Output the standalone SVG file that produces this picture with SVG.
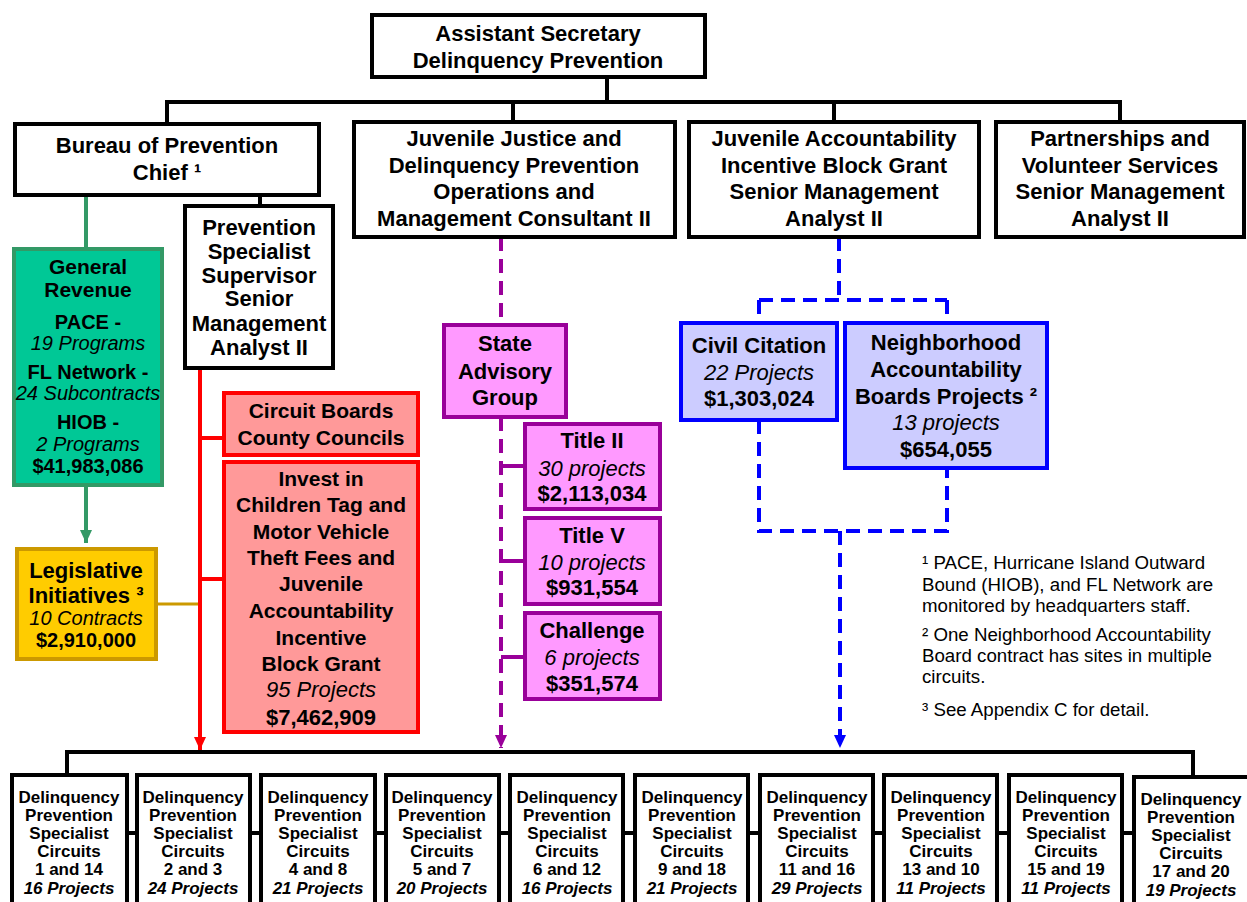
<svg xmlns="http://www.w3.org/2000/svg" width="1247" height="902" viewBox="0 0 1247 902">
<style>
text{font-family:"Liberation Sans",Arial,sans-serif;fill:#000;text-anchor:middle}
.b{font-weight:bold;font-size:22px}
.i{font-style:italic;font-size:22px}
.b20{font-weight:bold;font-size:20px}
.i20{font-style:italic;font-size:20px}
.b21{font-weight:bold;font-size:21px}
.bs{font-weight:bold;font-size:17px}
.is{font-weight:bold;font-style:italic;font-size:17px}
.fn{font-size:18.7px;text-anchor:start}
.wbox{fill:#fff;stroke:#000;stroke-width:4}
.gbox{fill:#00C896;stroke:#339966;stroke-width:4}
.ybox{fill:#FFCC00;stroke:#CC9900;stroke-width:4}
.rbox{fill:#FF9999;stroke:#FF0000;stroke-width:4}
.pbox{fill:#FF99FF;stroke:#990099;stroke-width:4}
.bbox{fill:#CCCCFF;stroke:#0000FF;stroke-width:4}
.k{fill:none;stroke:#000;stroke-width:4}
.gl{fill:none;stroke:#339966;stroke-width:4}
.yl{fill:none;stroke:#CC9900;stroke-width:3}
.rl{fill:none;stroke:#FF0000;stroke-width:4}
.pl{fill:none;stroke:#990099;stroke-width:4}
.pd{fill:none;stroke:#990099;stroke-width:4;stroke-dasharray:14 8}
.bd{fill:none;stroke:#0000FF;stroke-width:4;stroke-dasharray:14 8}
</style>
<defs>
<marker id="ag" markerUnits="userSpaceOnUse" markerWidth="14" markerHeight="14" refX="13" refY="7" orient="auto"><path d="M0,1 L13,7 L0,13 z" fill="#339966"/></marker>
<marker id="ar" markerUnits="userSpaceOnUse" markerWidth="14" markerHeight="14" refX="13" refY="7" orient="auto"><path d="M0,1 L13,7 L0,13 z" fill="#FF0000"/></marker>
<marker id="ap" markerUnits="userSpaceOnUse" markerWidth="14" markerHeight="14" refX="13" refY="7" orient="auto"><path d="M0,1 L13,7 L0,13 z" fill="#990099"/></marker>
<marker id="ab" markerUnits="userSpaceOnUse" markerWidth="14" markerHeight="14" refX="13" refY="7" orient="auto"><path d="M0,1 L13,7 L0,13 z" fill="#0000FF"/></marker>
</defs>
<rect width="1247" height="902" fill="#fff"/>

<g id="connectors">
<path class="k" d="M607,77 V102 M165,102 H1122 M167,102 V124 M513,102 V122 M834,102 V122 M1120,102 V122 M260,195 V206"/>
<path class="k" d="M65,752 H1195 M67,752 V775 M1193,752 V777"/>
<path class="k" d="M127,833 H137 M250,833 H261 M375,833 H386 M499,833 H510 M623,833 H635 M748,833 H760 M873,833 H884 M997,833 H1009 M1122,833 H1134"/>
<path class="gl" d="M86,195 V248"/>
<path class="gl" d="M86,485 V543" marker-end="url(#ag)"/>
<path class="yl" d="M156,604 H200"/>
<path class="rl" d="M200,368 V750" marker-end="url(#ar)"/>
<path class="rl" d="M200,438 H224 M200,579 H224"/>
<path class="pd" d="M501,237 V325"/>
<path class="pd" d="M501,417 V748" marker-end="url(#ap)"/>
<path class="pl" d="M501,466 H525 M501,561 H525 M501,657 H525"/>
<path class="bd" d="M839,237 V300 M759,300 H947 M759,300 V323 M947,300 V323 M759,420 V531 H947 V468"/>
<path class="bd" d="M840,531 V748" marker-end="url(#ab)"/>
</g>

<g id="n-asst">
<rect class="wbox" x="372" y="15" width="333" height="62"/>
<text class="b" x="538" y="41">Assistant Secretary</text>
<text class="b" x="538" y="68">Delinquency Prevention</text>
</g>

<g id="n-bureau">
<rect class="wbox" x="15" y="124" width="304" height="71"/>
<text class="b" x="167" y="153">Bureau of Prevention</text>
<text class="b" x="167" y="180">Chief ¹</text>
</g>

<g id="n-jj">
<rect class="wbox" x="354" y="122" width="321" height="115"/>
<text class="b" x="514" y="146">Juvenile Justice and</text>
<text class="b" x="514" y="173">Delinquency Prevention</text>
<text class="b" x="514" y="199">Operations and</text>
<text class="b" x="514" y="226">Management Consultant II</text>
</g>

<g id="n-jaibg">
<rect class="wbox" x="689" y="122" width="290" height="115"/>
<text class="b" x="834" y="146">Juvenile Accountability</text>
<text class="b" x="834" y="173">Incentive Block Grant</text>
<text class="b" x="834" y="199">Senior Management</text>
<text class="b" x="834" y="226">Analyst II</text>
</g>

<g id="n-partner">
<rect class="wbox" x="996" y="122" width="248" height="115"/>
<text class="b" x="1120" y="146">Partnerships and</text>
<text class="b" x="1120" y="173">Volunteer Services</text>
<text class="b" x="1120" y="199">Senior Management</text>
<text class="b" x="1120" y="226">Analyst II</text>
</g>

<g id="n-general">
<rect class="gbox" x="14" y="249" width="148" height="236"/>
<text class="b21" x="88" y="274">General</text>
<text class="b21" x="88" y="297">Revenue</text>
<text class="b20" x="88" y="329">PACE -</text>
<text class="i20" x="88" y="350">19 Programs</text>
<text class="b20" x="88" y="379">FL Network -</text>
<text class="i20" x="88" y="400">24 Subcontracts</text>
<text class="b20" x="88" y="429">HIOB -</text>
<text class="i20" x="88" y="451">2 Programs</text>
<text class="b20" x="88" y="473">$41,983,086</text>
</g>

<g id="n-legis">
<rect class="ybox" x="17" y="549" width="139" height="110"/>
<text class="b" x="86" y="578">Legislative</text>
<text class="b" x="86" y="603">Initiatives ³</text>
<text class="i20" x="86" y="625">10 Contracts</text>
<text class="b20" x="86" y="647">$2,910,000</text>
</g>

<g id="n-pss">
<rect class="wbox" x="185" y="206" width="148" height="162"/>
<text class="b" x="259" y="235">Prevention</text>
<text class="b" x="259" y="259">Specialist</text>
<text class="b" x="259" y="283">Supervisor</text>
<text class="b" x="259" y="306">Senior</text>
<text class="b" x="259" y="331">Management</text>
<text class="b" x="259" y="355">Analyst II</text>
</g>

<g id="n-circuit">
<rect class="rbox" x="224" y="393" width="194" height="62"/>
<text class="b21" x="321" y="418">Circuit Boards</text>
<text class="b21" x="321" y="445">County Councils</text>
</g>

<g id="n-invest">
<rect class="rbox" x="224" y="462" width="194" height="270"/>
<text class="b21" x="321" y="486">Invest in</text>
<text class="b21" x="321" y="512">Children Tag and</text>
<text class="b21" x="321" y="539">Motor Vehicle</text>
<text class="b21" x="321" y="565">Theft Fees and</text>
<text class="b21" x="321" y="591">Juvenile</text>
<text class="b21" x="321" y="618">Accountability</text>
<text class="b21" x="321" y="645">Incentive</text>
<text class="b21" x="321" y="671">Block Grant</text>
<text class="i" x="321" y="697">95 Projects</text>
<text class="b" x="321" y="725">$7,462,909</text>
</g>

<g id="n-sag">
<rect class="pbox" x="444" y="325" width="122" height="92"/>
<text class="b" x="505" y="351">State</text>
<text class="b" x="505" y="379">Advisory</text>
<text class="b" x="505" y="405">Group</text>
</g>

<g id="n-title2">
<rect class="pbox" x="525" y="424" width="135" height="85"/>
<text class="b" x="592" y="448">Title II</text>
<text class="i" x="592" y="476">30 projects</text>
<text class="b" x="592" y="501">$2,113,034</text>
</g>

<g id="n-title5">
<rect class="pbox" x="525" y="518" width="135" height="86"/>
<text class="b" x="592" y="543">Title V</text>
<text class="i" x="592" y="570">10 projects</text>
<text class="b" x="592" y="595">$931,554</text>
</g>

<g id="n-challenge">
<rect class="pbox" x="525" y="613" width="135" height="86"/>
<text class="b" x="592" y="638">Challenge</text>
<text class="i" x="592" y="665">6 projects</text>
<text class="b" x="592" y="691">$351,574</text>
</g>

<g id="n-civil">
<rect class="bbox" x="681" y="323" width="156" height="97"/>
<text class="b" x="759" y="353">Civil Citation</text>
<text class="i" x="759" y="380">22 Projects</text>
<text class="b" x="759" y="406">$1,303,024</text>
</g>

<g id="n-nab">
<rect class="bbox" x="845" y="323" width="202" height="145"/>
<text class="b" x="946" y="350">Neighborhood</text>
<text class="b" x="946" y="377">Accountability</text>
<text class="b" x="946" y="404">Boards Projects ²</text>
<text class="i" x="946" y="430">13 projects</text>
<text class="b" x="946" y="457">$654,055</text>
</g>

<g id="footnotes">
<text class="fn" x="922" y="569">¹ PACE, Hurricane Island Outward</text>
<text class="fn" x="922" y="591">Bound (HIOB), and FL Network are</text>
<text class="fn" x="922" y="612">monitored by headquarters staff.</text>
<text class="fn" x="922" y="641">² One Neighborhood Accountability</text>
<text class="fn" x="922" y="662">Board contract has sites in multiple</text>
<text class="fn" x="922" y="683">circuits.</text>
<text class="fn" x="922" y="716">³ See Appendix C for detail.</text>
</g>

<g id="c1"><rect class="wbox" x="12" y="775" width="115" height="140"/>
<text class="bs" x="69" y="803">Delinquency</text><text class="bs" x="69" y="821">Prevention</text><text class="bs" x="69" y="839">Specialist</text><text class="bs" x="69" y="857">Circuits</text><text class="bs" x="69" y="875">1 and 14</text><text class="is" x="69" y="894">16 Projects</text></g>
<g id="c2"><rect class="wbox" x="137" y="775" width="113" height="140"/>
<text class="bs" x="193" y="803">Delinquency</text><text class="bs" x="193" y="821">Prevention</text><text class="bs" x="193" y="839">Specialist</text><text class="bs" x="193" y="857">Circuits</text><text class="bs" x="193" y="875">2 and 3</text><text class="is" x="193" y="894">24 Projects</text></g>
<g id="c3"><rect class="wbox" x="261" y="775" width="114" height="140"/>
<text class="bs" x="318" y="803">Delinquency</text><text class="bs" x="318" y="821">Prevention</text><text class="bs" x="318" y="839">Specialist</text><text class="bs" x="318" y="857">Circuits</text><text class="bs" x="318" y="875">4 and 8</text><text class="is" x="318" y="894">21 Projects</text></g>
<g id="c4"><rect class="wbox" x="386" y="775" width="113" height="140"/>
<text class="bs" x="442" y="803">Delinquency</text><text class="bs" x="442" y="821">Prevention</text><text class="bs" x="442" y="839">Specialist</text><text class="bs" x="442" y="857">Circuits</text><text class="bs" x="442" y="875">5 and 7</text><text class="is" x="442" y="894">20 Projects</text></g>
<g id="c5"><rect class="wbox" x="510" y="775" width="113" height="140"/>
<text class="bs" x="567" y="803">Delinquency</text><text class="bs" x="567" y="821">Prevention</text><text class="bs" x="567" y="839">Specialist</text><text class="bs" x="567" y="857">Circuits</text><text class="bs" x="567" y="875">6 and 12</text><text class="is" x="567" y="894">16 Projects</text></g>
<g id="c6"><rect class="wbox" x="635" y="775" width="113" height="140"/>
<text class="bs" x="692" y="803">Delinquency</text><text class="bs" x="692" y="821">Prevention</text><text class="bs" x="692" y="839">Specialist</text><text class="bs" x="692" y="857">Circuits</text><text class="bs" x="692" y="875">9 and 18</text><text class="is" x="692" y="894">21 Projects</text></g>
<g id="c7"><rect class="wbox" x="760" y="775" width="113" height="140"/>
<text class="bs" x="817" y="803">Delinquency</text><text class="bs" x="817" y="821">Prevention</text><text class="bs" x="817" y="839">Specialist</text><text class="bs" x="817" y="857">Circuits</text><text class="bs" x="817" y="875">11 and 16</text><text class="is" x="817" y="894">29 Projects</text></g>
<g id="c8"><rect class="wbox" x="884" y="775" width="113" height="140"/>
<text class="bs" x="941" y="803">Delinquency</text><text class="bs" x="941" y="821">Prevention</text><text class="bs" x="941" y="839">Specialist</text><text class="bs" x="941" y="857">Circuits</text><text class="bs" x="941" y="875">13 and 10</text><text class="is" x="941" y="894">11 Projects</text></g>
<g id="c9"><rect class="wbox" x="1009" y="775" width="113" height="140"/>
<text class="bs" x="1066" y="803">Delinquency</text><text class="bs" x="1066" y="821">Prevention</text><text class="bs" x="1066" y="839">Specialist</text><text class="bs" x="1066" y="857">Circuits</text><text class="bs" x="1066" y="875">15 and 19</text><text class="is" x="1066" y="894">11 Projects</text></g>
<g id="c10"><rect class="wbox" x="1134" y="777" width="118" height="140"/>
<text class="bs" x="1191" y="805">Delinquency</text><text class="bs" x="1191" y="823">Prevention</text><text class="bs" x="1191" y="841">Specialist</text><text class="bs" x="1191" y="859">Circuits</text><text class="bs" x="1191" y="877">17 and 20</text><text class="is" x="1191" y="896">19 Projects</text></g>
</svg>
